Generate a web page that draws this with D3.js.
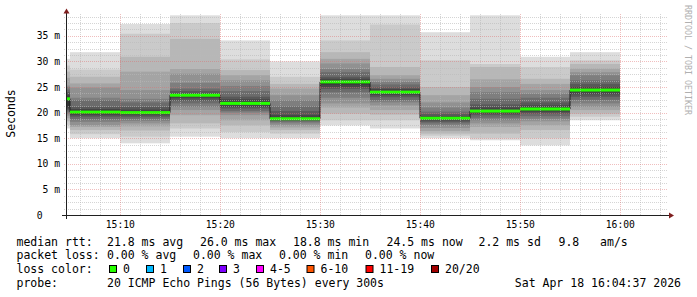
<!DOCTYPE html>
<html>
<head>
<meta charset="utf-8">
<script src="https://cdn.jsdelivr.net/npm/d3@7"></script>
<style>
html, body { margin: 0; padding: 0; background: #fff; }
svg { display: block; font-family: "DejaVu Sans Mono", monospace; }
text { white-space: pre; }
</style>
</head>
<body>
<svg id="chart" width="697" height="297"></svg>
<script>
// time window of the graph
const day = "2026-04-18";
const windowStart = "15:04:37";
const windowEnd = "16:04:37";

// one entry per 5 minute step (start time), rtt in ms
const stepStarts = ["15:00", "15:05", "15:10", "15:15", "15:20", "15:25",
                    "15:30", "15:35", "15:40", "15:45", "15:50", "15:55"];
const stepEnd = "16:00";
const medians = [22.7, 20.1, 20.0, 23.4, 21.8, 18.8, 26.0, 24.0, 18.9, 20.3, 20.7, 24.4];
const lossCounts = [0, 0, 0, 0, 0, 0, 0, 0, 0, 0, 0, 0];

// the 20 sorted pings of every step (smoke)
const pings = [
    [16.9, 17.6, 18.3, 18.9, 19.4, 19.8, 20.2, 20.5, 20.8, 21.2, 23.1, 23.5, 24.0, 24.5, 25.0, 25.3, 26.8, 28.0, 29.2, 30.5],
    [15.0, 15.8, 16.6, 17.2, 17.5, 18.2, 18.7, 19.2, 19.5, 19.8, 20.4, 20.7, 21.1, 22.4, 22.9, 24.9, 25.7, 27.0, 28.4, 31.8],
    [14.0, 15.3, 16.5, 17.3, 17.9, 18.4, 18.8, 19.2, 19.5, 19.8, 20.2, 20.6, 21.1, 22.0, 22.7, 24.4, 28.0, 30.9, 35.4, 37.3],
    [15.3, 16.9, 17.9, 19.5, 20.5, 21.1, 21.8, 22.3, 22.8, 23.2, 23.6, 23.8, 24.2, 24.7, 25.8, 27.6, 28.5, 34.4, 37.5, 39.0],
    [15.0, 16.2, 17.5, 18.5, 19.5, 20.0, 20.3, 20.8, 21.1, 21.5, 22.1, 22.6, 23.1, 24.2, 25.2, 26.3, 27.3, 28.3, 30.4, 34.1],
    [15.0, 15.9, 16.6, 17.1, 17.5, 17.9, 18.2, 18.4, 18.6, 18.7, 18.9, 19.5, 20.3, 21.2, 22.4, 23.4, 24.7, 25.6, 27.0, 30.0],
    [17.5, 18.5, 19.8, 21.0, 21.8, 22.9, 24.0, 24.6, 25.0, 25.5, 26.3, 26.6, 27.0, 27.9, 28.5, 29.6, 30.5, 31.8, 34.1, 39.0],
    [16.9, 18.5, 19.6, 20.5, 21.4, 22.0, 22.4, 23.0, 23.4, 23.8, 24.2, 24.6, 24.9, 25.5, 26.0, 26.6, 27.3, 28.9, 37.2, 39.0],
    [15.0, 15.5, 15.9, 16.4, 17.0, 17.5, 17.9, 18.2, 18.5, 18.7, 19.0, 19.3, 19.7, 20.2, 21.0, 22.0, 23.4, 25.0, 30.2, 35.7],
    [14.6, 15.0, 15.9, 17.2, 17.9, 18.5, 19.0, 19.5, 19.8, 20.1, 20.5, 21.0, 21.6, 22.7, 24.0, 25.0, 26.5, 28.9, 29.5, 39.0],
    [13.6, 15.0, 16.6, 17.5, 18.3, 18.8, 19.3, 19.8, 20.1, 20.4, 20.9, 21.4, 22.0, 22.9, 23.7, 24.4, 25.6, 26.6, 28.9, 30.9],
    [18.5, 19.2, 19.8, 20.5, 21.1, 21.8, 22.5, 23.1, 23.6, 24.1, 24.6, 25.0, 25.6, 26.3, 27.3, 27.9, 28.6, 29.5, 30.2, 31.8]
];

// smoke shades, outer pair first
const smokeColors = ["#dddddd", "#cacaca", "#b7b7b7", "#a4a4a4", "#919191",
                     "#7e7e7e", "#6b6b6b", "#585858", "#454545", "#323232"];

const yTicks = [0, 5, 10, 15, 20, 25, 30, 35];

// legend
const lossLabels = ["0", "1", "2", "3", "4-5", "6-10", "11-19", "20/20"];
const lossColors = ["#26ff00", "#00b8ff", "#0059ff", "#7e00ff", "#ff00ff", "#ff5500", "#ff0000", "#a10000"];
const lossBoxX = [109, 146, 183, 219, 256, 306.5, 365.5, 431];
const rttItems = ["21.8 ms avg", "26.0 ms max", "18.8 ms min", "24.5 ms now", "2.2 ms sd", "9.8   am/s"];
const rttX = [107, 200, 293, 386.5, 478.5, 558.5];
const lossItems = ["0.00 % avg", "0.00 % max", "0.00 % min", "0.00 % now"];
const lossX = [107, 193, 279, 365];
const probeText = "20 ICMP Echo Pings (56 Bytes) every 300s";
const stampText = "Sat Apr 18 16:04:37 2026";

const parseT = d3.timeParse("%Y-%m-%d %H:%M:%S");
const t = s => parseT(day + " " + (s.length === 5 ? s + ":00" : s));

const svg = d3.select("#chart");
const x = d3.scaleTime().domain([t(windowStart), t(windowEnd)]).range([66, 666]);
const y = d3.scaleLinear().domain([0, 39.26]).range([215, 14]);

const starts = stepStarts.map(t);
const ends = starts.slice(1).concat([t(stepEnd)]);
const px = d => Math.max(67, Math.round(x(d)));

// smoke
const steps = svg.append("g").selectAll("g")
    .data(pings)
    .enter().append("g");

steps.selectAll("rect")
    .data((p, i) => smokeColors.map((c, k) => ({ lo: p[k], hi: p[19 - k], c: c, i: i })))
    .enter().append("rect")
    .attr("x", d => px(starts[d.i]))
    .attr("width", d => px(ends[d.i]) - px(starts[d.i]))
    .attr("y", d => y(d.hi))
    .attr("height", d => y(d.lo) - y(d.hi))
    .attr("fill", d => d.c);

// median: thin dark step line, then loss coloured band
const medPts = medians.map((m, i) => [px(starts[i]), y(m)]);
medPts.push([px(ends[ends.length - 1]), y(medians[medians.length - 1])]);
svg.append("path")
    .attr("d", d3.line().curve(d3.curveStepAfter)(medPts))
    .attr("fill", "none")
    .attr("stroke", "#202020")
    .attr("stroke-width", 1);

function lossColor(n) {
    const limits = [0, 1, 2, 3, 5, 10, 19, 20];
    return lossColors[limits.findIndex(l => n <= l)];
}

svg.append("g").selectAll("rect")
    .data(medians)
    .enter().append("rect")
    .attr("x", (m, i) => px(starts[i]))
    .attr("width", (m, i) => px(ends[i]) - px(starts[i]))
    .attr("y", m => y(m) - 1.5)
    .attr("height", 3)
    .attr("fill", (m, i) => lossColor(lossCounts[i]));

// grid on top of the graph
const grid = svg.append("g").attr("shape-rendering", "crispEdges");
const minorY = d3.range(0, 39.26, 1.25).filter(v => v % 5 !== 0);
const minorX = d3.timeMinute.every(2).range(t(windowStart), t(windowEnd)).filter(d => d.getMinutes() % 10 !== 0);
const majorX = d3.timeMinute.every(10).range(t(windowStart), t(windowEnd));
const minorColor = "rgba(185,185,185,0.6)";
const majorColor = "rgba(222,110,110,0.45)";

grid.selectAll(".my").data(minorY).enter().append("line")
    .attr("x1", 64).attr("x2", 668)
    .attr("y1", v => Math.round(y(v)) + 0.5).attr("y2", v => Math.round(y(v)) + 0.5)
    .attr("stroke", minorColor).attr("stroke-dasharray", "1,1");
grid.selectAll(".mx").data(minorX).enter().append("line")
    .attr("y1", 14).attr("y2", 215)
    .attr("x1", d => Math.round(x(d)) + 0.5).attr("x2", d => Math.round(x(d)) + 0.5)
    .attr("stroke", minorColor).attr("stroke-dasharray", "1,1");
grid.selectAll(".My").data(yTicks.slice(1)).enter().append("line")
    .attr("x1", 64).attr("x2", 668)
    .attr("y1", v => Math.round(y(v)) + 0.5).attr("y2", v => Math.round(y(v)) + 0.5)
    .attr("stroke", majorColor).attr("stroke-dasharray", "1,1");
grid.selectAll(".Mx").data(majorX).enter().append("line")
    .attr("y1", 14).attr("y2", 215)
    .attr("x1", d => Math.round(x(d)) + 0.5).attr("x2", d => Math.round(x(d)) + 0.5)
    .attr("stroke", majorColor).attr("stroke-dasharray", "1,1");

// axes
const xAxis = svg.append("g")
    .attr("transform", "translate(0,215)")
    .call(d3.axisBottom(x).ticks(d3.timeMinute.every(10)).tickFormat(d3.timeFormat("%H:%M")).tickSize(0));
xAxis.select(".domain").remove();
xAxis.selectAll("text")
    .attr("y", 12.5).attr("dy", null)
    .attr("font-family", "DejaVu Sans Mono").attr("font-size", "9.7px").attr("fill", "#000");

const yAxis = svg.append("g")
    .attr("transform", "translate(66.5,0)")
    .call(d3.axisLeft(y).tickValues(yTicks).tickFormat(v => v ? v + " m" : "0   ").tickSize(0).tickPadding(6.5));
yAxis.select(".domain").remove();
yAxis.selectAll("text")
    .attr("font-family", "DejaVu Sans Mono").attr("font-size", "9.7px").attr("fill", "#000");

svg.append("line").attr("x1", 66.5).attr("x2", 66.5).attr("y1", 219).attr("y2", 12)
    .attr("stroke", "#202020");
svg.append("line").attr("x1", 62).attr("x2", 670).attr("y1", 215.5).attr("y2", 215.5)
    .attr("stroke", "#202020");
svg.append("path").attr("d", "M63.5,13.5L69.5,13.5L66.5,8.5Z").attr("fill", "#7f1f1f");
svg.append("path").attr("d", "M669,212.5L669,218.5L674,215.5Z").attr("fill", "#7f1f1f");

// axis title and watermark
svg.append("text")
    .attr("transform", "translate(15,113.5) rotate(-90)")
    .attr("text-anchor", "middle")
    .attr("font-size", "11.5px")
    .text("Seconds");

svg.append("text")
    .attr("transform", "translate(685,5) rotate(90)")
    .attr("font-size", "8.3px")
    .attr("fill", "#b0b0b0")
    .text("RRDTOOL / TOBI OETIKER");

// legend
const legend = svg.append("g").attr("font-size", "11.5px").attr("fill", "#000");
legend.append("text").attr("x", 16.5).attr("y", 245.5).text("median rtt:");
legend.selectAll(".rtt").data(rttItems).enter().append("text")
    .attr("x", (d, i) => rttX[i]).attr("y", 245.5).text(d => d);

legend.append("text").attr("x", 16.5).attr("y", 259.3).text("packet loss:");
legend.selectAll(".loss").data(lossItems).enter().append("text")
    .attr("x", (d, i) => lossX[i]).attr("y", 259.3).text(d => d);

legend.append("text").attr("x", 16.5).attr("y", 273.1).text("loss color:");
legend.selectAll(".box").data(lossColors).enter().append("rect")
    .attr("x", (d, i) => lossBoxX[i] + 0.5).attr("y", 265.5)
    .attr("width", 7).attr("height", 7)
    .attr("fill", d => d).attr("stroke", "#000");
legend.selectAll(".lbl").data(lossLabels).enter().append("text")
    .attr("x", (d, i) => lossBoxX[i] + 14).attr("y", 273.1).text(d => d);

legend.append("text").attr("x", 16.5).attr("y", 286.9).text("probe:");
legend.append("text").attr("x", 107).attr("y", 286.9).text(probeText);
legend.append("text").attr("x", 681).attr("y", 286.9).attr("text-anchor", "end").text(stampText);
</script>
</body>
</html>
